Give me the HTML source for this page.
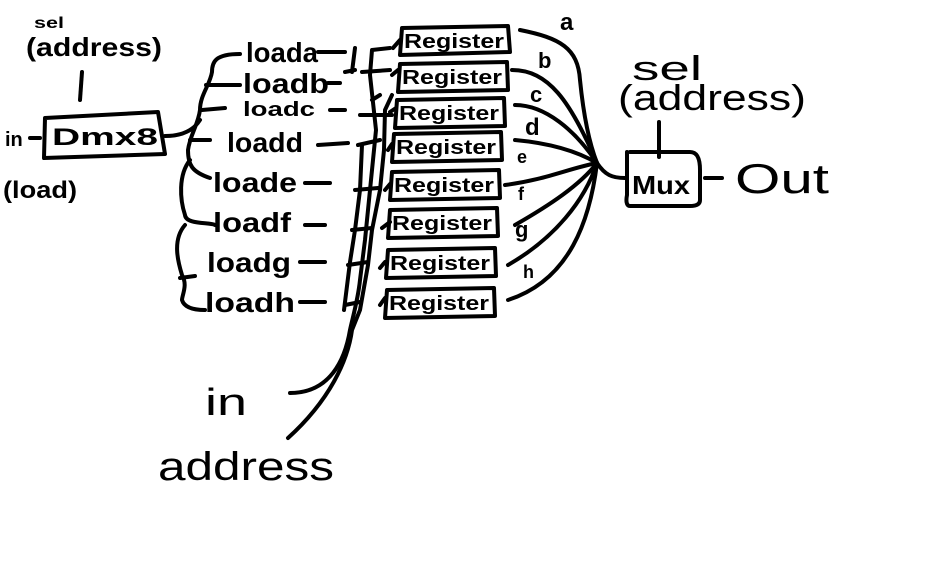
<!DOCTYPE html>
<html><head><style>
html,body{margin:0;padding:0;background:#fff;}
svg{display:block}
text{font-family:"Liberation Sans",sans-serif;fill:#000;}
</style></head><body>
<svg width="934" height="564" viewBox="0 0 934 564" xmlns="http://www.w3.org/2000/svg">
<g fill="none" stroke="#000" stroke-width="4" stroke-linecap="round" stroke-linejoin="round">
<path d="M45 118 L158 112 L165 154 L44 158 Z"/>
<path d="M80 100 L82 72"/>
<path d="M30 138 L40 138"/>
<path d="M165 136 C185 136 195 128 200 120"/>
<path d="M240 54 C215 54 212 62 212 72 C210 85 200 95 200 110 C198 125 190 135 188 150 C188 165 192 172 210 178"/>
<path d="M206 85 L240 85"/>
<path d="M202 110 L225 108"/>
<path d="M190 140 L210 140"/>
<path d="M190 160 C178 175 180 200 185 215 C186 225 210 222 215 225"/>
<path d="M185 225 C172 240 178 262 182 275 C188 285 182 295 182 300 C185 310 200 310 205 310"/>
<path d="M180 278 L195 276"/>
<path d="M318 52 L345 52"/>
<path d="M328 83 L340 83"/>
<path d="M330 110 L345 110"/>
<path d="M318 145 L348 143"/>
<path d="M305 183 L330 183"/>
<path d="M305 225 L325 225"/>
<path d="M300 262 L325 262"/>
<path d="M300 302 L325 302"/>
<path d="M355 48 L352 72 M345 72 L355 70"/>
<path d="M290 393 C330 393 345 360 350 330 C352 320 358 300 360 280 L365 240 L372 170 L376 130 L370 75 L372 50 L390 48"/>
<path d="M288 438 C330 400 348 360 352 330 L360 310 L368 265 L372 230 L380 190 L384 150 L385 110 L392 95"/>
<path d="M345 305 L360 302 M348 265 L368 262 M352 230 L372 228 M355 190 L378 188 M358 145 L380 140 M360 115 L392 115 M362 72 L390 70 M372 100 L380 95"/>
<path d="M344 310 L350 262 L355 230 L360 190 L362 145"/>
<path d="M380 305 L385 298 M380 268 L385 262 M382 228 L390 222 M385 190 L390 184 M388 150 L392 144 M390 112 L396 108 M392 75 L398 70 M393 48 L400 40"/>
<path d="M402 28 L508 26 L510 52 L400 55 Z"/>
<path d="M400 64 L507 62 L508 90 L398 92 Z"/>
<path d="M397 100 L504 98 L505 126 L395 128 Z"/>
<path d="M394 134 L501 132 L502 160 L392 162 Z"/>
<path d="M392 172 L499 170 L500 198 L390 200 Z"/>
<path d="M390 210 L497 208 L498 236 L388 238 Z"/>
<path d="M388 250 L495 248 L496 276 L386 278 Z"/>
<path d="M387 290 L494 288 L495 316 L385 318 Z"/>
<path d="M520 30 C560 38 578 48 580 80 C583 110 588 140 597 163"/>
<path d="M512 70 C548 70 570 100 597 163"/>
<path d="M515 105 C545 105 575 130 597 163"/>
<path d="M515 140 C548 143 575 150 597 163"/>
<path d="M505 185 C545 180 570 168 597 163"/>
<path d="M515 225 C550 205 580 185 597 163"/>
<path d="M508 265 C555 238 585 200 597 163"/>
<path d="M508 300 C570 280 590 220 597 163"/>
<path d="M597 163 C605 175 612 178 625 178"/>
<path d="M630 152 L690 152 C698 152 700 160 700 170 L700 200 C700 205 695 206 690 206 L630 206 C626 206 626 200 627 195 L627 152"/>
<path d="M659 122 L659 157"/>
<path d="M705 178 L722 178"/>
</g>
<g font-weight="bold">
<text x="34" y="28" font-size="16" textLength="30" lengthAdjust="spacingAndGlyphs">sel</text>
<text x="26" y="56" font-size="26" textLength="136" lengthAdjust="spacingAndGlyphs">(address)</text>
<text x="5" y="146" font-size="20">in</text>
<text x="3" y="198" font-size="24" textLength="74" lengthAdjust="spacingAndGlyphs">(load)</text>
<text x="52" y="145" font-size="24" textLength="106" lengthAdjust="spacingAndGlyphs">Dmx8</text>
<text x="246" y="62" font-size="28" textLength="72" lengthAdjust="spacingAndGlyphs">loada</text>
<text x="243" y="93" font-size="28" textLength="86" lengthAdjust="spacingAndGlyphs">loadb</text>
<text x="243" y="116" font-size="20" textLength="72" lengthAdjust="spacingAndGlyphs">loadc</text>
<text x="227" y="152" font-size="28" textLength="76" lengthAdjust="spacingAndGlyphs">loadd</text>
<text x="213" y="192" font-size="28" textLength="84" lengthAdjust="spacingAndGlyphs">loade</text>
<text x="213" y="232" font-size="28" textLength="78" lengthAdjust="spacingAndGlyphs">loadf</text>
<text x="207" y="272" font-size="28" textLength="84" lengthAdjust="spacingAndGlyphs">loadg</text>
<text x="205" y="312" font-size="28" textLength="90" lengthAdjust="spacingAndGlyphs">loadh</text>
<text x="205" y="415" font-size="38" font-weight="normal" textLength="42" lengthAdjust="spacingAndGlyphs">in</text>
<text x="158" y="480" font-size="40" font-weight="normal" textLength="176" lengthAdjust="spacingAndGlyphs">address</text>
<text x="404" y="48" font-size="20" textLength="100" lengthAdjust="spacingAndGlyphs">Register</text>
<text x="402" y="84" font-size="20" textLength="100" lengthAdjust="spacingAndGlyphs">Register</text>
<text x="399" y="120" font-size="20" textLength="100" lengthAdjust="spacingAndGlyphs">Register</text>
<text x="396" y="154" font-size="20" textLength="100" lengthAdjust="spacingAndGlyphs">Register</text>
<text x="394" y="192" font-size="20" textLength="100" lengthAdjust="spacingAndGlyphs">Register</text>
<text x="392" y="230" font-size="20" textLength="100" lengthAdjust="spacingAndGlyphs">Register</text>
<text x="390" y="270" font-size="20" textLength="100" lengthAdjust="spacingAndGlyphs">Register</text>
<text x="389" y="310" font-size="20" textLength="100" lengthAdjust="spacingAndGlyphs">Register</text>
<text x="560" y="30" font-size="24">a</text>
<text x="538" y="68" font-size="22">b</text>
<text x="530" y="102" font-size="22">c</text>
<text x="525" y="135" font-size="24">d</text>
<text x="517" y="163" font-size="18">e</text>
<text x="518" y="200" font-size="18">f</text>
<text x="515" y="237" font-size="22">g</text>
<text x="523" y="278" font-size="18">h</text>
<text x="632" y="80" font-size="34" font-weight="normal" textLength="70" lengthAdjust="spacingAndGlyphs">sel</text>
<text x="618" y="110" font-size="36" font-weight="normal" textLength="188" lengthAdjust="spacingAndGlyphs">(address)</text>
<text x="632" y="194" font-size="26" textLength="58" lengthAdjust="spacingAndGlyphs">Mux</text>
<text x="735" y="193" font-size="42" font-weight="normal" textLength="94" lengthAdjust="spacingAndGlyphs">Out</text>
</g>
</svg>
</body></html>
